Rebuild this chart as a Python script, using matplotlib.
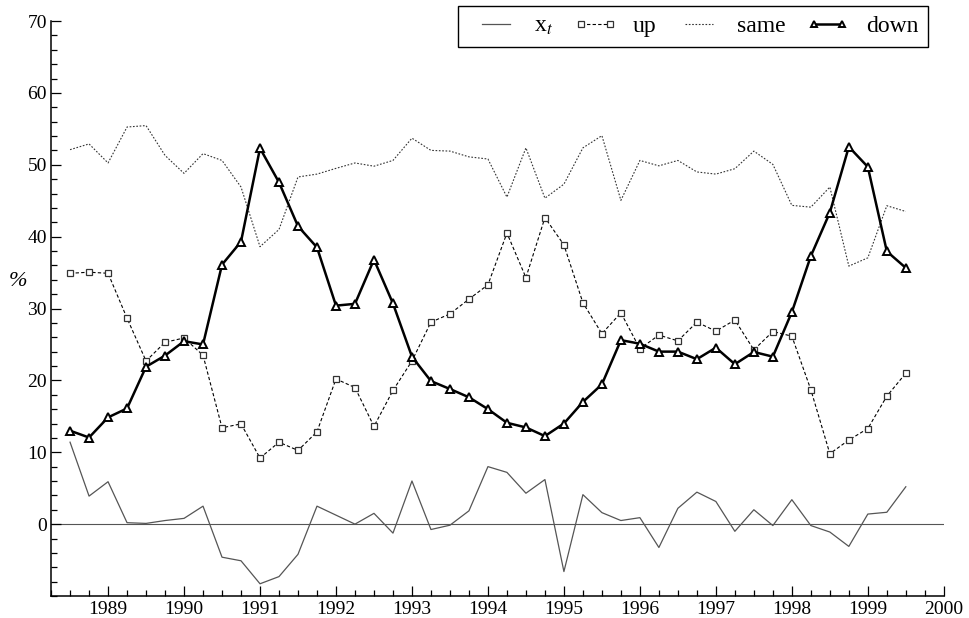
import numpy as np
import matplotlib.pyplot as plt
from matplotlib.ticker import MultipleLocator
from matplotlib.lines import Line2D
from matplotlib.legend_handler import HandlerLine2D

# quarterly observations, 1988Q3 .. 1999Q3
quarters = 1988.5 + 0.25 * np.arange(45)

x_t = [11.4, 3.9, 5.9, 0.2, 0.1, 0.5, 0.8, 2.5, -4.6, -5.1,
       -8.3, -7.3, -4.2, 2.5, 1.25, 0.0, 1.5, -1.25, 6.0, -0.75,
       -0.15, 1.85, 8.0, 7.2, 4.3, 6.2, -6.6, 4.1, 1.6, 0.5,
       0.9, -3.25, 2.2, 4.45, 3.15, -1.0, 2.0, -0.2, 3.4, -0.2,
       -1.1, -3.1, 1.4, 1.65, 5.2]

up = [34.9, 35.05, 34.9, 28.65, 22.7, 25.3, 25.9, 23.5, 13.4, 13.95,
      9.2, 11.4, 10.25, 12.85, 20.2, 19.0, 13.6, 18.6, 22.7, 28.1,
      29.25, 31.3, 33.3, 40.5, 34.3, 42.65, 38.85, 30.8, 26.5, 29.4,
      24.4, 26.3, 25.5, 28.1, 26.85, 28.4, 24.25, 26.8, 26.15, 18.7,
      9.8, 11.7, 13.3, 17.8, 21.0]

same = [52.1, 52.9, 50.25, 55.25, 55.45, 51.3, 48.8, 51.55, 50.6, 46.9,
        38.6, 41.0, 48.3, 48.7, 49.5, 50.25, 49.8, 50.6, 53.7, 52.0,
        51.9, 51.1, 50.8, 45.5, 52.35, 45.35, 47.3, 52.35, 54.05, 45.05,
        50.6, 49.85, 50.6, 49.0, 48.7, 49.45, 51.9, 50.05, 44.35, 44.1,
        46.9, 35.9, 37.05, 44.3, 43.5]

down = [13.0, 12.05, 14.85, 16.1, 21.9, 23.45, 25.45, 25.0, 36.1, 39.3,
        52.3, 47.55, 41.45, 38.5, 30.4, 30.65, 36.8, 30.7, 23.3, 19.9,
        18.8, 17.65, 16.0, 14.1, 13.45, 12.25, 14.0, 17.0, 19.45, 25.6,
        25.1, 24.0, 24.0, 22.95, 24.55, 22.25, 23.95, 23.3, 29.5, 37.3,
        43.35, 52.5, 49.7, 37.95, 35.65]

plt.rcParams['font.family'] = ['Liberation Serif', 'DejaVu Serif']
plt.rcParams['mathtext.fontset'] = 'stix'

fig = plt.figure(figsize=(9.69, 6.18), dpi=100)
ax = fig.add_axes([0.0527, 0.0356, 0.9213, 0.9304])

ax.axhline(0, color='#555555', lw=0.8, zorder=1)
ax.plot(quarters, x_t, color='#555555', lw=0.9, label='x$_{\\mathit{t}}$')
ax.plot(quarters, up, color='black', lw=0.8, ls=(0, (3, 2)),
        marker='s', ms=5, mfc='white', mec='#333333', mew=0.9, label='up')
ax.plot(quarters, same, color='#333333', lw=0.8, ls=(0, (1.5, 1.5)),
        label='same')
ax.plot(quarters, down, color='black', lw=1.8,
        marker='^', ms=5.5, mfc='white', mec='black', mew=1.4, label='down')

ax.set_xlim(1988.25, 2000)
ax.set_ylim(-10, 70)
ax.xaxis.set_minor_locator(MultipleLocator(0.25))
ax.set_xticks(range(1989, 2001))
ax.set_yticks(range(0, 71, 10))
ax.yaxis.set_minor_locator(MultipleLocator(2))
ax.tick_params(which='both', direction='in', labelsize=14, width=0.9)
ax.tick_params(which='major', length=7)
ax.tick_params(which='minor', length=4)
ax.tick_params(axis='y', pad=3)
ax.spines['top'].set_visible(False)
ax.spines['right'].set_visible(False)
for s in ('left', 'bottom'):
    ax.spines[s].set_linewidth(1.1)

ax.set_ylabel('%', rotation=0, fontsize=16, style='italic')
ax.yaxis.set_label_coords(-0.037, 0.53)

leg = ax.legend(loc='upper right', bbox_to_anchor=(0.982, 1.026), ncol=4,
                fontsize=17, frameon=True, fancybox=False, framealpha=1,
                edgecolor='black', handlelength=2.4, handletextpad=0.4,
                columnspacing=0.6, borderpad=0.4, numpoints=2,
                borderaxespad=0, markerscale=0.8,
                handler_map={Line2D: HandlerLine2D(marker_pad=0.6)})
leg.get_frame().set_linewidth(1.0)

fig.savefig('out.png', dpi=100)
